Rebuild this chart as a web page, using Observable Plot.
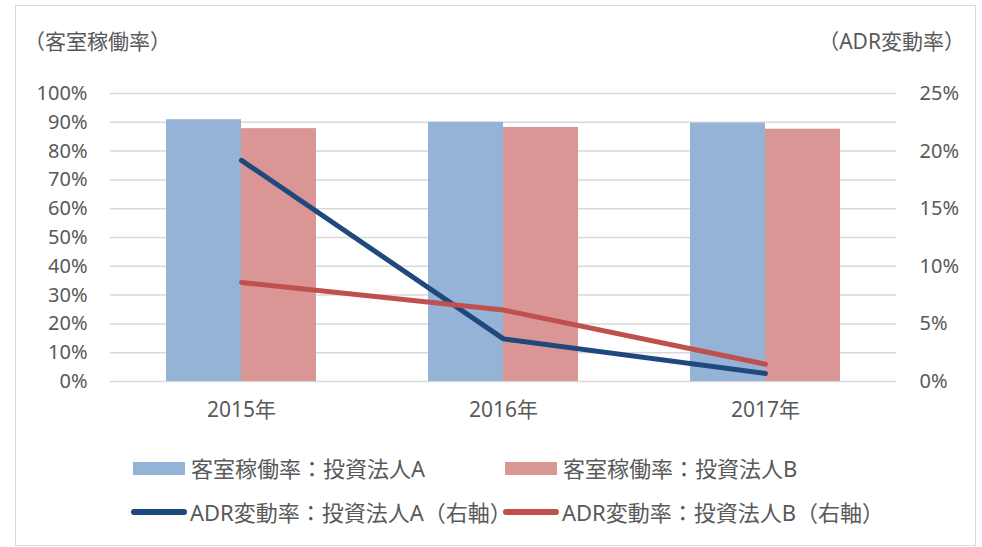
<!DOCTYPE html>
<html>
<head>
<meta charset="utf-8">
<script src="https://cdn.jsdelivr.net/npm/d3@7"></script>
<script src="https://cdn.jsdelivr.net/npm/@observablehq/plot@0.6"></script>
<style>
  body { margin: 0; background: #fff; }
  #wrap { position: relative; width: 982px; height: 547px; background: #fff;
    font-family: "Noto Sans", "Noto Sans CJK JP", sans-serif; color: #595959; }
  .frame { position: absolute; left: 15px; top: 5px; width: 959px; height: 539px; border: 1.5px solid #d9d9d9; }
  #chart { position: absolute; left: 0; top: 0; }
  .title { position: absolute; top: 27px; font-size: 21px; line-height: 28px; white-space: nowrap; }
  .leg { position: absolute; display: flex; align-items: center; font-size: 22px; line-height: 28px; white-space: nowrap; }
  .sw-rect { width: 52px; height: 13px; margin-right: 6px; }
  .sw-line { width: 56px; height: 6px; border-radius: 3px; margin-right: 3px; }
</style>
</head>
<body>
<div id="wrap">
  <div class="frame"></div>
  <div id="chart"></div>
  <div class="title" id="tl" style="left:24px">（客室稼働率）</div>
  <div class="title" id="tr" style="right:17px">（ADR変動率）</div>
</div>
<script>
// ---- data ----
const years = ["2015年", "2016年", "2017年"];
const occA = [90.9, 90.0, 89.7];   // 客室稼働率：投資法人A (%)
const occB = [87.8, 88.2, 87.6];   // 客室稼働率：投資法人B (%)
const adrA = [19.2, 3.7, 0.7];     // ADR変動率：投資法人A (%), right axis
const adrB = [8.6, 6.2, 1.5];      // ADR変動率：投資法人B (%), right axis
const leftTicks = [0, 10, 20, 30, 40, 50, 60, 70, 80, 90, 100];
const rightTicks = [0, 5, 10, 15, 20, 25];
const seriesNames = ["客室稼働率：投資法人A", "客室稼働率：投資法人B", "ADR変動率：投資法人A（右軸）", "ADR変動率：投資法人B（右軸）"];

const colors = { barA: "#95B3D7", barB: "#D99694", lineA: "#1F497D", lineB: "#C0504D" };

const rows = years.map((y, i) => ({ year: y, occA: occA[i], occB: occB[i], adrA: adrA[i], adrB: adrB[i] }));
const ratio = 100 / 25; // right axis 0–25% mapped onto left 0–100%

const chart = Plot.plot({
  width: 982,
  height: 440,
  marginLeft: 110,
  marginRight: 86,
  marginTop: 93,
  marginBottom: 59,
  style: { fontFamily: '"Noto Sans", "Noto Sans CJK JP", sans-serif', fontSize: "20px", color: "#595959", background: "transparent" },
  x: { type: "band", domain: years, paddingInner: 0.4275, paddingOuter: 0.21375, axis: null },
  y: { domain: [0, 100], axis: null },
  marks: [
    Plot.ruleY(leftTicks, { stroke: "#d9d9d9", strokeWidth: 1.5 }),
    Plot.barY(rows, { x: "year", y: "occA", fill: colors.barA, insetRight: 75 }),
    Plot.barY(rows, { x: "year", y: "occB", fill: colors.barB, insetLeft: 75 }),
    Plot.line(rows, { x: "year", y: d => d.adrA * ratio, stroke: colors.lineA, strokeWidth: 5, strokeLinecap: "round", strokeLinejoin: "round" }),
    Plot.line(rows, { x: "year", y: d => d.adrB * ratio, stroke: colors.lineB, strokeWidth: 5, strokeLinecap: "round", strokeLinejoin: "round" }),
    Plot.axisY({ anchor: "left", ticks: leftTicks, tickSize: 0, tickPadding: 23, tickFormat: d => d + "%", label: null }),
    Plot.axisY({ anchor: "right", ticks: rightTicks.map(t => t * ratio), tickSize: 0, tickPadding: 23, tickFormat: d => (d / ratio) + "%", label: null }),
    Plot.axisX({ anchor: "bottom", tickSize: 0, tickPadding: 21, fontSize: 21, label: null })
  ]
});
document.getElementById("chart").appendChild(chart);

// legend
const wrap = document.getElementById("wrap");
const legendItems = [
  { name: seriesNames[0], color: colors.barA, kind: "rect", left: 133, top: 454 },
  { name: seriesNames[1], color: colors.barB, kind: "rect", left: 505, top: 454 },
  { name: seriesNames[2], color: colors.lineA, kind: "line", left: 131, top: 498 },
  { name: seriesNames[3], color: colors.lineB, kind: "line", left: 503, top: 498 }
];
for (const it of legendItems) {
  const d = document.createElement("div");
  d.className = "leg";
  d.style.left = it.left + "px";
  d.style.top = it.top + "px";
  const sw = document.createElement("span");
  sw.className = it.kind === "rect" ? "sw-rect" : "sw-line";
  sw.style.background = it.color;
  const t = document.createElement("span");
  t.textContent = it.name;
  d.appendChild(sw);
  d.appendChild(t);
  wrap.appendChild(d);
}
</script>
</body>
</html>
